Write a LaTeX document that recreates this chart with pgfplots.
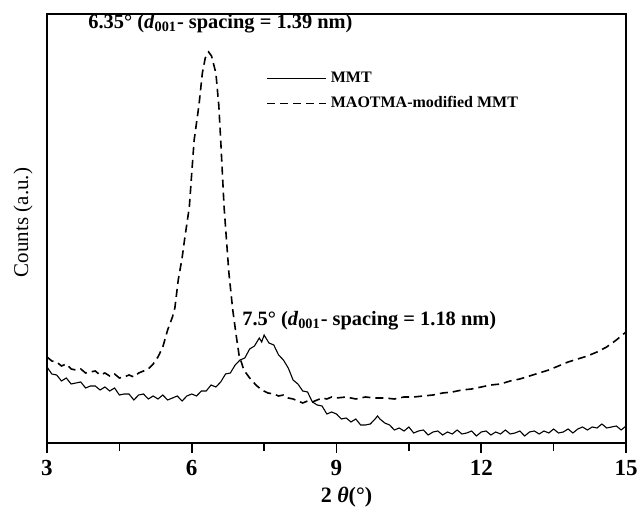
\documentclass[border=0pt]{standalone}
\usepackage{fontspec}
\setmainfont{Liberation Serif}
\usepackage{pgfplots}
\pgfplotsset{compat=1.18}

% XRD patterns, y in arbitrary units (pixels)
\pgfplotstableread{
x y
3.0 76
3.1 69
3.2 68
3.3 62
3.4 65
3.5 59
3.6 60
3.7 61
3.8 55
3.9 57
4.0 57
4.1 53
4.2 56
4.3 52
4.4 55
4.5 48
4.6 49
4.7 49
4.8 43
4.9 48
5.0 49
5.1 44
5.2 47
5.3 44
5.4 48
5.5 43
5.6 45
5.7 47
5.8 42
5.9 47
6.0 49
6.1 47
6.2 52
6.3 52
6.4 58
6.5 56
6.6 61
6.7 69
6.8 70
6.9 78
7.0 83
7.1 85
7.2 94
7.3 97
7.35 101
7.4 105
7.45 101
7.5 108
7.55 104
7.6 100
7.7 98
7.8 88
7.9 83
8.0 75
8.1 63
8.2 59
8.3 52
8.4 51
8.5 41
8.6 38
8.7 37
8.8 29
8.9 31
9.0 29
9.1 24
9.2 25
9.3 21
9.4 24
9.5 18
9.6 18
9.7 19
9.8 24
9.85 27
9.9 24
10.0 20
10.1 18
10.2 13
10.3 15
10.4 12
10.5 16
10.6 10
10.7 12
10.8 13
10.9 8
11.0 11
11.1 12
11.2 8
11.3 11
11.4 9
11.5 13
11.6 9
11.7 10
11.8 12
11.9 7
12.0 11
12.1 12
12.2 8
12.3 11
12.4 9
12.5 13
12.6 9
12.7 10
12.8 12
12.9 7
13.0 11
13.1 12
13.2 9
13.3 12
13.4 10
13.5 14
13.6 10
13.7 11
13.8 14
13.9 10
14.0 14
14.1 16
14.2 13
14.3 16
14.4 15
14.5 19
14.6 15
14.7 16
14.8 17
14.9 13
15.0 17
}\mmt

\pgfplotstableread{
x y
3.0 86
3.1 82
3.2 81
3.3 77
3.4 79
3.5 74
3.6 73
3.7 74
3.8 70
3.9 71
4.0 72
4.1 68
4.2 70
4.3 67
4.4 69
4.5 65
4.6 66
4.7 68
4.8 66
4.9 70
5.0 72
5.1 74
5.2 79
5.3 86
5.4 96
5.5 113
5.6 126
5.65 135
5.72 163
5.8 185
5.85 203
5.95 236
6.0 270
6.05 303
6.15 338
6.22 370
6.28 385
6.35 391
6.41 387
6.5 370
6.56 338
6.6 303
6.67 236
6.77 170
6.85 133
6.92 108
6.98 88
7.08 73
7.2 65
7.33 58
7.45 53
7.58 50
7.7 49
7.8 47
7.9 48
8.0 45
8.1 44
8.2 42
8.3 40
8.4 42
8.5 41
8.6 43
8.7 45
8.8 44
8.9 46
9.0 45
9.2 46
9.4 44
9.6 46
9.8 45
10.0 45
10.2 44
10.4 46
10.6 46
10.8 47
11.0 48
11.2 50
11.4 51
11.6 53
11.8 54
12.0 56
12.2 58
12.4 59
12.6 62
12.8 64
13.0 67
13.2 70
13.4 73
13.6 77
13.8 81
14.0 84
14.2 87
14.4 91
14.6 96
14.8 103
15.0 111
}\modified

\begin{document}
\begin{tikzpicture}
\useasboundingbox (-23.5pt,-32pt) rectangle (295pt,221.5pt);
\begin{axis}[
scale only axis,
width=289.5pt, height=214.5pt,
xmin=3, xmax=15, ymin=0, ymax=429,
xtick={3,6,9,12,15},
minor x tick num=1,
ytick=\empty,
tick align=outside,
xtick pos=bottom,
major tick length=5pt,
minor tick length=4pt,
axis line style={line width=1pt},
every tick/.style={line width=0.8pt,black},
/pgf/number format/assume math mode=true,
tick label style={font=\fontsize{11.5}{12}\selectfont\bfseries},
xlabel={2 \textit{θ}(°)},
xlabel style={font=\fontsize{11}{12}\selectfont\bfseries, xshift=5pt, yshift=1pt},
ylabel={Counts (a.u.)},
every axis y label/.style={at={(rel axis cs:0,0.5)},anchor=center,rotate=90,yshift=12pt,xshift=3pt,font=\fontsize{10.5}{12}\selectfont},
legend style={at={(rel axis cs:0.378,0.875)},anchor=north west,draw=none,fill=none,
  font=\fontsize{8}{10}\selectfont\bfseries,row sep=1.5pt,inner sep=0pt},
legend cell align=left,
legend image code/.code={\draw[#1] (0pt,0pt) -- (29.5pt,0pt);},
]
\addplot[black, line width=0.55pt] table[x=x,y=y] {\mmt};
\addlegendentry{MMT}
\addplot[black, line width=0.8pt, dash pattern=on 4pt off 2.5pt] table[x=x,y=y] {\modified};
\addlegendentry{MAOTMA-modified MMT}
\node[anchor=west, font=\fontsize{10.2}{11}\selectfont\bfseries, inner sep=0pt] at (axis cs:3.85,419)
  {6.35° (\textit{d}\textsubscript{001}- spacing = 1.39 nm)};
\node[anchor=west, font=\fontsize{10.2}{11}\selectfont\bfseries, inner sep=0pt] at (axis cs:7.04,122)
  {7.5° (\textit{d}\textsubscript{001}- spacing = 1.18 nm)};
\end{axis}
\end{tikzpicture}
\end{document}
